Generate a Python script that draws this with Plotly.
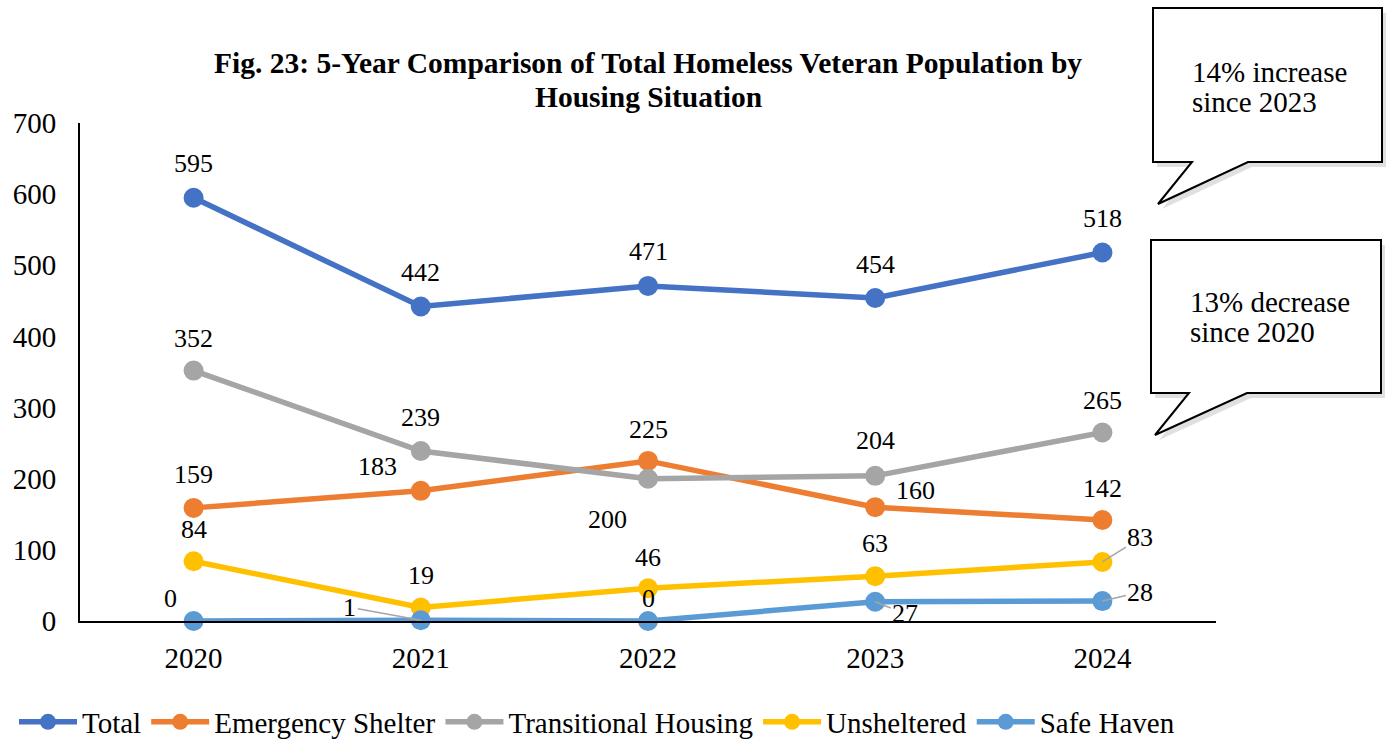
import plotly.graph_objects as go

# ---------------- data ----------------
years = ["2020", "2021", "2022", "2023", "2024"]
total = [595, 442, 471, 454, 518]
emergency_shelter = [159, 183, 225, 160, 142]
transitional_housing = [352, 239, 200, 204, 265]
unsheltered = [84, 19, 46, 63, 83]
safe_haven = [0, 1, 0, 27, 28]

series_names = ["Total", "Emergency Shelter", "Transitional Housing", "Unsheltered", "Safe Haven"]
series_values = [total, emergency_shelter, transitional_housing, unsheltered, safe_haven]

title_lines = ["Fig. 23: 5-Year Comparison of Total Homeless Veteran Population by",
               "Housing Situation"]
callout_lines = [["14% increase", "since 2023"], ["13% decrease", "since 2020"]]

# ---------------- styles ----------------
colors = ["#4472C4", "#ED7D31", "#A5A5A5", "#FFC000", "#5B9BD5"]
FONT = "Liberation Serif, Times New Roman, serif"

W, H = 1389, 740
L, R, T, B = 80, 173, 123, 119
PW, PH = W - L - R, H - T - B

def px(xp):  # pixel -> paper x
    return (xp - L) / PW

def py(yp):  # pixel -> paper y
    return (H - B - yp) / PH

# label offsets (xshift, yshift) in pixels, or leader lines (ax, ay)
label_style = {
    0: [("s", 0, 34)] * 5,
    1: [("s", 0, 33), ("s", -43, 24), ("s", 0, 31), ("s", 40, 17), ("s", 0, 31)],
    2: [("s", 0, 32), ("s", 0, 33), ("s", -41, -41), ("s", 0, 35), ("s", 0, 32)],
    3: [("s", 0, 32), ("s", 0, 32), ("s", 0, 31), ("s", 0, 33), ("a", 38, -24)],
    4: [("s", -23, 23), ("a", -71, -13), ("s", 0, 23), ("a", 30, 12), ("a", 38, -9)],
}

fig = go.Figure()
for i, (name, vals) in enumerate(zip(series_names, series_values)):
    fig.add_trace(go.Scatter(
        x=years, y=vals, name=name, mode="lines+markers",
        line=dict(color=colors[i], width=5.5),
        marker=dict(color=colors[i], size=20),
        cliponaxis=False,
    ))

LBL = dict(family=FONT, size=26, color="black")
annotations = []
for i, vals in enumerate(series_values):
    for j, v in enumerate(vals):
        kind, a, b = label_style[i][j]
        if kind == "s":
            annotations.append(dict(
                x=j, y=v, xref="x", yref="y", text=str(v), showarrow=False,
                xshift=a, yshift=b, font=LBL,
            ))
        else:
            annotations.append(dict(
                x=j, y=v, xref="x", yref="y", text=str(v), showarrow=True,
                ax=a, ay=b, arrowhead=0, arrowwidth=1.5, arrowcolor="#A5A5A5",
                standoff=0, font=LBL,
            ))

# title as two lines
for k, (txt, yy) in enumerate(zip(title_lines, [63, 97])):
    annotations.append(dict(
        x=px(648), y=py(yy), xref="paper", yref="paper", text="<b>" + txt + "</b>",
        showarrow=False, xanchor="center", yanchor="middle",
        font=dict(family=FONT, size=29.5, color="black"),
    ))

# callout boxes (pixel geometry)
callouts = [
    dict(box=(1153, 8, 1382, 162), base=(1192, 1248), tip=(1158, 204), tx=1190, ty=(72, 102)),
    dict(box=(1151, 240, 1381, 393), base=(1189, 1247), tip=(1155, 435), tx=1188, ty=(302, 332)),
]
shapes = []
for k, c in enumerate(callouts):
    x0, y0, x1, y1 = c["box"]
    bl, br = c["base"]
    tx, ty = c["tip"]
    def path(dx=0, dy=0):
        pts = [(x0, y0), (x1, y0), (x1, y1), (br, y1), (tx, ty), (bl, y1), (x0, y1)]
        return "M " + " L ".join(f"{px(p[0] + dx):.5f},{py(p[1] + dy):.5f}" for p in pts) + " Z"
    shapes.append(dict(type="path", path=path(4, 5), xref="paper", yref="paper",
                       fillcolor="rgba(0,0,0,0.12)", line=dict(width=0), layer="above"))
    shapes.append(dict(type="path", path=path(), xref="paper", yref="paper",
                       fillcolor="white", line=dict(color="black", width=2), layer="above"))
    for line_txt, yy in zip(callout_lines[k], c["ty"]):
        annotations.append(dict(
            x=px(c["tx"]), y=py(yy), xref="paper", yref="paper",
            text=line_txt, showarrow=False, xanchor="left", yanchor="middle", align="left",
            font=dict(family=FONT, size=29, color="black"),
        ))

fig.update_layout(
    width=W, height=H,
    margin=dict(l=L, r=R, t=T, b=B, autoexpand=False),
    paper_bgcolor="white", plot_bgcolor="white",
    font=dict(family=FONT, color="black"),
    xaxis=dict(type="category", range=[-0.5, 4.5], showline=True, linecolor="black",
               linewidth=2, showgrid=False, ticks="", ticklabelstandoff=10,
               tickfont=dict(family=FONT, size=29, color="black"), zeroline=False),
    yaxis=dict(range=[0, 700], dtick=100, showline=True, linecolor="black", linewidth=2,
               showgrid=False, ticks="", ticklabelstandoff=16, zeroline=False,
               tickfont=dict(family=FONT, size=29, color="black")),
    legend=dict(orientation="h", x=px(14), xanchor="left", y=py(722), yanchor="middle",
                font=dict(family=FONT, size=29, color="black"), itemwidth=58,
                tracegroupgap=0, bgcolor="rgba(0,0,0,0)"),
    shapes=shapes,
    annotations=annotations,
    showlegend=True,
)

fig.write_html(
    "out.html",
    config={"displayModeBar": False},
    post_script="document.body.style.margin='0';document.body.style.overflow='hidden';",
)
